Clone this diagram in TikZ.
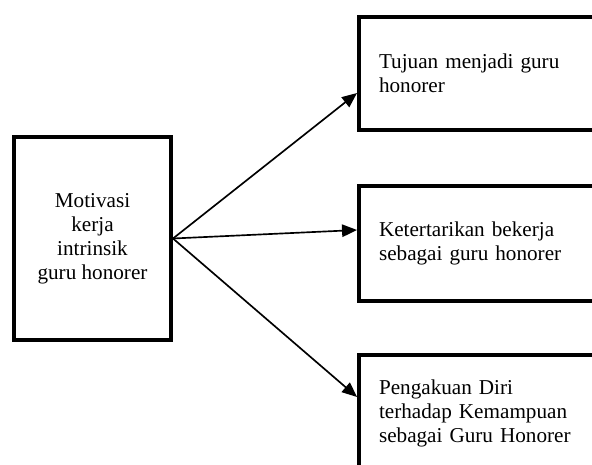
\documentclass[tikz,border=0pt]{standalone}
\usepackage{fontspec}
\setmainfont{Liberation Serif}
\usetikzlibrary{arrows.meta}

\begin{document}
\begin{tikzpicture}[x=0.6pt, y=-0.6pt,
    motivation/.style ={rectangle, draw, line width=2.4pt, align=center,
        minimum width=94.2pt, minimum height=121.8pt, inner sep=0pt,
        font=\fontsize{12.7}{14.4}\selectfont},
    indicator/.style ={rectangle, draw, line width=2.4pt, align=left,
        text width=200pt, inner xsep=12pt, inner ysep=0pt,
        font=\fontsize{12.7}{14.4}\selectfont},
    link/.style ={line width=1pt, -{Triangle[length=9pt, width=7.5pt]}}]
   \useasboundingbox (0,0) rectangle (592,465);

   \node[motivation] (mot) at (92.5,238.5) {Motivasi\\kerja\\intrinsik\\guru honorer};
   \node[indicator, minimum height=67.8pt] (tuj) at (545.7,73.5) {Tujuan menjadi guru\\honorer};
   \node[indicator, minimum height=69pt] (ket) at (545.7,243.5) {Ketertarikan bekerja\\sebagai guru honorer};
   \node[indicator, minimum height=69.6pt] (pen) at (545.7,413) {Pengakuan Diri\\terhadap Kemampuan\\sebagai Guru Honorer};

   \draw[link] (mot.east) to ([yshift=-11.7pt]tuj.west);
   \draw[link] (mot.east) to ([yshift=8.1pt]ket.west);
   \draw[link] (mot.east) to ([yshift=9.6pt]pen.west);

\end{tikzpicture}
\end{document}
